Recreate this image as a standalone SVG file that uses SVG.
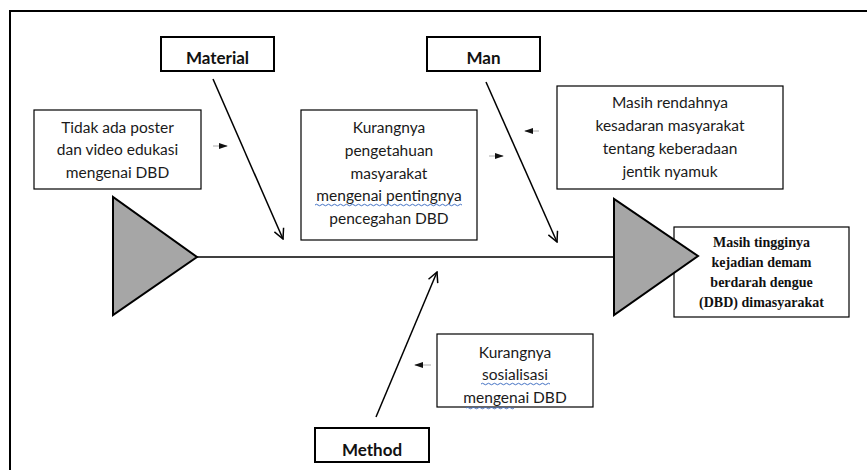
<svg xmlns="http://www.w3.org/2000/svg" width="867" height="470" viewBox="0 0 867 470">
<defs>
<style>
.box{fill:none;stroke:#000;stroke-width:1.2}
.cat{fill:#fff;stroke:#000;stroke-width:2}
.t{font-family:Lato,"Open Sans",sans-serif;font-size:15.5px;fill:#1a1a1a;text-anchor:middle}
.tb{font-family:Lato,"Open Sans",sans-serif;font-size:17px;font-weight:bold;fill:#111;text-anchor:middle}
.tr{font-family:"Liberation Serif","Times New Roman",serif;font-size:14px;font-weight:bold;fill:#111;text-anchor:middle}
.tri{fill:#a6a6a6;stroke:#000;stroke-width:2;stroke-linejoin:miter}
.ln{stroke:#000;stroke-width:1.5;fill:none}
.sm{stroke:#aaa;stroke-width:1;fill:none}
.wave{stroke:#4472c4;stroke-width:1;fill:none}
</style>
<marker id="open" viewBox="0 0 12 12" refX="11" refY="6" markerWidth="12" markerHeight="12" markerUnits="userSpaceOnUse" orient="auto">
<path d="M1,1 L11,6 L1,11" fill="none" stroke="#000" stroke-width="1.5"/>
</marker>
<marker id="small" viewBox="0 0 10 10" refX="9" refY="5" markerWidth="9" markerHeight="9" markerUnits="userSpaceOnUse" orient="auto">
<path d="M0,1.5 L10,5 L0,8.5 Z" fill="#111"/>
</marker>
</defs>
<rect width="867" height="470" fill="#fff"/>
<path d="M10,470 V11 H867" fill="none" stroke="#000" stroke-width="2"/>

<g id="tail">
<polygon class="tri" points="113,197 113,315 197,257"/>
</g>

<g id="connectors">
<line class="ln" x1="197" y1="257" x2="614" y2="257"/>
<line class="ln" x1="213" y1="79" x2="283" y2="239" marker-end="url(#open)"/>
<line class="ln" x1="486" y1="82" x2="557" y2="242" marker-end="url(#open)"/>
<line class="ln" x1="376" y1="417" x2="437" y2="272" marker-end="url(#open)"/>
<line class="sm" x1="213" y1="146" x2="227" y2="146" marker-end="url(#small)"/>
<line class="sm" x1="489" y1="156" x2="503" y2="156" marker-end="url(#small)"/>
<line class="sm" x1="539" y1="131" x2="525" y2="131" marker-end="url(#small)"/>
<line class="sm" x1="431" y1="365" x2="415" y2="365" marker-end="url(#small)"/>
</g>

<g id="material">
<rect class="cat" x="161" y="37" width="113" height="34"/>
<text class="tb" x="217.5" y="64">Material</text>
</g>

<g id="man">
<rect class="cat" x="427" y="37" width="113" height="34"/>
<text class="tb" x="483.5" y="64">Man</text>
</g>

<g id="method">
<rect class="cat" x="315" y="428" width="114" height="34"/>
<text class="tb" x="372" y="456">Method</text>
</g>

<g id="cause-poster">
<rect class="box" x="34" y="110" width="167" height="79"/>
<text class="t" x="117.5" y="133">Tidak ada poster</text>
<text class="t" x="117.5" y="155">dan video edukasi</text>
<text class="t" x="117.5" y="178">mengenai DBD</text>
</g>

<g id="cause-pengetahuan">
<rect class="box" x="301" y="110" width="176" height="130"/>
<text class="t" x="389" y="133">Kurangnya</text>
<text class="t" x="389" y="156">pengetahuan</text>
<text class="t" x="389" y="179">masyarakat</text>
<text class="t" x="389" y="201">mengenai pentingnya</text>
<text class="t" x="389" y="224">pencegahan DBD</text>
<path class="wave" d="M315,205 q1.5,-1.5 3,0 t3,0 t3,0 t3,0 t3,0 t3,0 t3,0 t3,0 t3,0 t3,0 t3,0 t3,0 t3,0 t3,0 t3,0 t3,0 t3,0 t3,0 t3,0 t3,0 t3,0 t3,0 t3,0 t3,0 t3,0 t3,0 t3,0 t3,0 t3,0 t3,0 t3,0 t3,0 t3,0 t3,0 t3,0 t3,0 t3,0 t3,0 t3,0 t3,0 t3,0 t3,0 t3,0 t3,0 t3,0 t3,0 t3,0 t3,0 t3,0"/>
</g>

<g id="cause-kesadaran">
<rect class="box" x="557" y="86" width="226" height="103"/>
<text class="t" x="670" y="108">Masih rendahnya</text>
<text class="t" x="670" y="131">kesadaran masyarakat</text>
<text class="t" x="670" y="154">tentang keberadaan</text>
<text class="t" x="670" y="177">jentik nyamuk</text>
</g>

<g id="cause-sosialisasi">
<rect class="box" x="437" y="334" width="156" height="73"/>
<text class="t" x="515" y="358">Kurangnya</text>
<text class="t" x="515" y="380">sosialisasi</text>
<text class="t" x="515" y="403">mengenai DBD</text>
<path class="wave" d="M481,384 q1.5,-1.5 3,0 t3,0 t3,0 t3,0 t3,0 t3,0 t3,0 t3,0 t3,0 t3,0 t3,0 t3,0 t3,0 t3,0 t3,0 t3,0 t3,0 t3,0 t3,0 t3,0 t3,0 t3,0 t3,0"/>
<path class="wave" d="M466,408 q1.5,-1.5 3,0 t3,0 t3,0 t3,0 t3,0 t3,0 t3,0 t3,0 t3,0 t3,0 t3,0 t3,0 t3,0 t3,0 t3,0 t3,0"/>
</g>

<g id="effect">
<rect class="box" x="674" y="227" width="175" height="90"/>
<polygon class="tri" points="614,199 614,315 698,256"/>
<text class="tr" x="761.5" y="247">Masih tingginya</text>
<text class="tr" x="761.5" y="267">kejadian demam</text>
<text class="tr" x="761.5" y="287">berdarah dengue</text>
<text class="tr" x="761.5" y="307">(DBD) dimasyarakat</text>
</g>
</svg>
